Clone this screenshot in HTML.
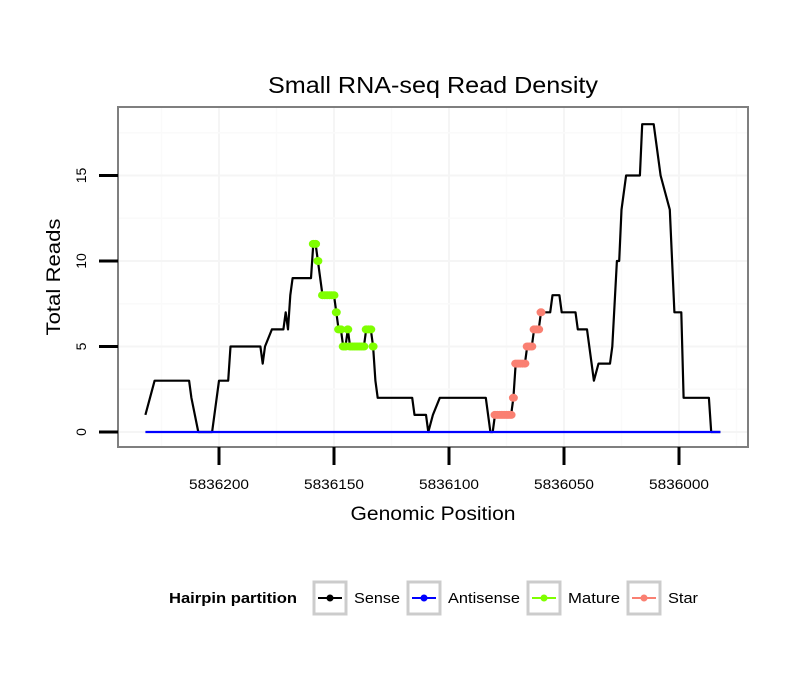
<!DOCTYPE html>
<html><head><meta charset="utf-8"><style>
body{margin:0;background:#fff;}
svg{display:block;font-family:"Liberation Sans",Arial,sans-serif;}
</style></head><body>
<svg id="chart" width="810" height="690" viewBox="0 0 810 690" xmlns="http://www.w3.org/2000/svg">
<rect width="810" height="690" fill="#fff"/>
<text x="433" y="93" font-size="23" text-anchor="middle" textLength="330" lengthAdjust="spacingAndGlyphs" fill="#000">Small RNA-seq Read Density</text>
<g id="grid"></g>
<g id="series"></g>
<rect x="118" y="107" width="630" height="340" fill="none" stroke="#7f7f7f" stroke-width="2"/>
<g id="axes"></g>
<text x="433" y="520" font-size="19" text-anchor="middle" textLength="165" lengthAdjust="spacingAndGlyphs">Genomic Position</text>
<text transform="translate(60,277) rotate(-90)" font-size="19" text-anchor="middle" textLength="117" lengthAdjust="spacingAndGlyphs">Total Reads</text>
<g>
<text x="169" y="603" font-size="15" font-weight="bold" textLength="128" lengthAdjust="spacingAndGlyphs">Hairpin partition</text>
<g><rect x="314" y="582" width="32" height="32" fill="#fff" stroke="#ccc" stroke-width="3"/><line x1="318" y1="598" x2="342" y2="598" stroke="#000" stroke-width="2"/><circle cx="330" cy="598" r="3.5" fill="#000"/><text x="354" y="603" font-size="15" textLength="46" lengthAdjust="spacingAndGlyphs">Sense</text></g>
<g><rect x="408" y="582" width="32" height="32" fill="#fff" stroke="#ccc" stroke-width="3"/><line x1="412" y1="598" x2="436" y2="598" stroke="#0000ff" stroke-width="2"/><circle cx="424" cy="598" r="3.5" fill="#0000ff"/><text x="448" y="603" font-size="15" textLength="72" lengthAdjust="spacingAndGlyphs">Antisense</text></g>
<g><rect x="528" y="582" width="32" height="32" fill="#fff" stroke="#ccc" stroke-width="3"/><line x1="532" y1="598" x2="556" y2="598" stroke="#7fff00" stroke-width="2"/><circle cx="544" cy="598" r="3.5" fill="#7fff00"/><text x="568" y="603" font-size="15" textLength="52" lengthAdjust="spacingAndGlyphs">Mature</text></g>
<g><rect x="628" y="582" width="32" height="32" fill="#fff" stroke="#ccc" stroke-width="3"/><line x1="632" y1="598" x2="656" y2="598" stroke="#fa8072" stroke-width="2"/><circle cx="644" cy="598" r="3.5" fill="#fa8072"/><text x="668" y="603" font-size="15" textLength="30" lengthAdjust="spacingAndGlyphs">Star</text></g>
</g>
</svg>
<script>
const BASE = 5836000;
const sensePos = [232,230,228,213,212,209,203,201,200,196,195,182,181,180,177,172,171,170,169,168,160,159,158,157,155,150,149,148,147,146,145,144,143,137,136,134,133,132,131,116,115,110,109,107,104,84,82,81,80,73,72,71,67,66,64,63,61,60,56,55,52,51,45,44,40,37,35,30,29,27,26,25,23,17,16,11,10,8,6,4,2,-1,-2,-13,-14,-18];
const senseVal = [1,2,3,3,2,0,0,2,3,3,5,5,4,5,6,6,7,6,8,9,9,11,11,10,8,8,7,6,6,5,5,6,5,5,6,6,5,3,2,2,1,1,0,1,2,2,0,0,1,1,2,4,4,5,5,6,6,7,7,8,8,7,7,6,6,3,4,4,5,10,10,13,15,15,18,18,17,15,14,13,7,7,2,2,0,0];
const antiPos = [232,-18];
const antiVal = [0,0];
const maturePos = [159,158,157,155,154,153,152,151,150,149,148,147,146,145,144,143,142,141,140,139,138,137,136,135,134,133];
const matureVal = [11,11,10,8,8,8,8,8,8,7,6,6,5,5,6,5,5,5,5,5,5,5,6,6,6,5];
const starPos = [80,79,78,77,76,75,74,73,72,71,70,69,68,67,66,65,64,63,62,61,60];
const starVal = [1,1,1,1,1,1,1,1,2,4,4,4,4,4,5,5,5,6,6,6,7];
const xTicks = [5836200,5836150,5836100,5836050,5836000];
const yTicks = [0,5,10,15];

const NS = "http://www.w3.org/2000/svg";
function X(p){ return 219 + (5836200 - p) * 2.3; }
function Y(v){ return 432 - v * 17.1; }
function mk(tag, attrs, parent){ const e = document.createElementNS(NS, tag); for (const k in attrs) e.setAttribute(k, attrs[k]); parent.appendChild(e); return e; }

const grid = document.getElementById('grid');
const axes = document.getElementById('axes');
const series = document.getElementById('series');
mk('rect',{x:118,y:107,width:630,height:340,fill:'#fff'},grid);
for (let i=0;i<xTicks.length;i++){
  const x = X(xTicks[i]);
  const g = mk('line',{x1:x,x2:x,y1:107,y2:447,stroke:'#f5f5f5','stroke-width':2},grid);
  
  
  const xm = X(xTicks[i]+25);
  mk('line',{x1:xm,x2:xm,y1:107,y2:447,stroke:'#fafafa','stroke-width':1.5},grid);
  const t = mk('line',{x1:x,x2:x,y1:447,y2:465,stroke:'#000','stroke-width':3},axes);
  
  
  const l = mk('text',{x:x,y:489,'font-size':14,'text-anchor':'middle',textLength:60,lengthAdjust:'spacingAndGlyphs'},axes);
  l.textContent = xTicks[i];
  
  
}
mk('line',{x1:X(5835975),x2:X(5835975),y1:107,y2:447,stroke:'#fafafa','stroke-width':1.5},grid);
for (let i=0;i<yTicks.length;i++){
  const y = Y(yTicks[i]);
  const g = mk('line',{x1:118,x2:748,y1:y,y2:y,stroke:'#f5f5f5','stroke-width':2},grid);
  
  
  const ym = Y(yTicks[i]+2.5);
  mk('line',{x1:118,x2:748,y1:ym,y2:ym,stroke:'#fafafa','stroke-width':1.5},grid);
  const t = mk('line',{x1:99,x2:118,y1:y,y2:y,stroke:'#000','stroke-width':3},axes);
  
  
  const l = mk('text',{transform:'translate(86,'+y+') rotate(-90)','font-size':14,'text-anchor':'middle'},axes);
  l.textContent = yTicks[i];
  
  
}
function line(pos, val, color, name){
  const pts = pos.map((p,i)=>X(BASE+p)+','+Y(val[i])).join(' ');
  const e = mk('polyline',{points:pts,fill:'none',stroke:color,'stroke-width':2.2,'stroke-linejoin':'round'},series);
  
  
}
function points(pos, val, color, name){
  for (let i=0;i<pos.length;i++){
    const c = mk('ellipse',{cx:X(BASE+pos[i]),cy:Y(val[i]),rx:4.5,ry:4,fill:color},series);
    
    
  }
}
line(sensePos, senseVal, '#000', 'sense-line');
line(antiPos, antiVal, '#0000ff', 'antisense-line');
points(maturePos, matureVal, '#7fff00', 'mature-point');
points(starPos, starVal, '#fa8072', 'star-point');
</script>
</body></html>
